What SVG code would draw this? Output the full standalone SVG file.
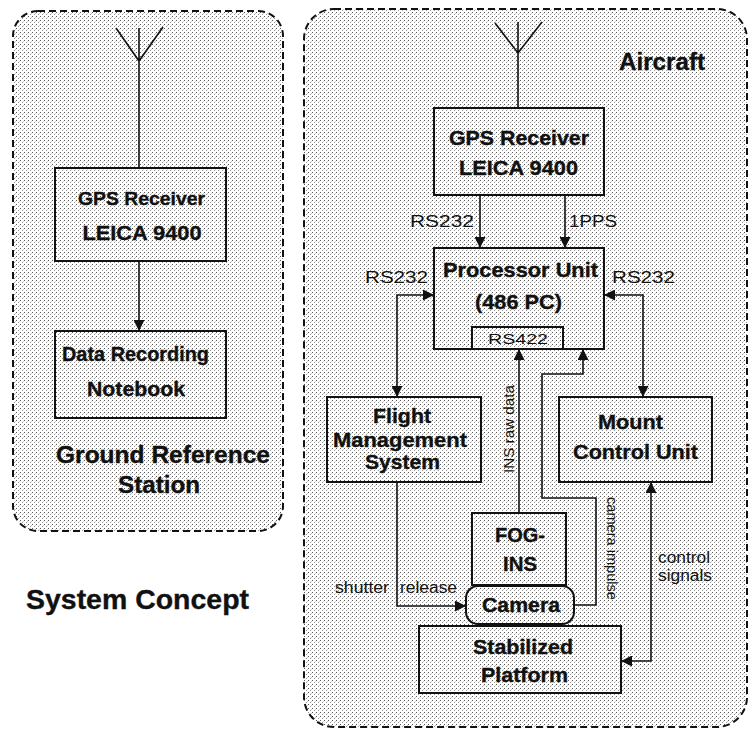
<svg xmlns="http://www.w3.org/2000/svg" width="749" height="729" viewBox="0 0 749 729">
<style>
.panel{fill:url(#dots);stroke:#111;stroke-width:2;stroke-dasharray:7 4}
.box{fill:none;stroke:#111;stroke-width:2}
.ln{fill:none;stroke:#111;stroke-width:1.6}
.b{font-family:"Liberation Sans",Arial,sans-serif;font-weight:bold;fill:#111;stroke:#111;stroke-width:0.35;text-anchor:middle}
.r{font-family:"Liberation Sans",Arial,sans-serif;fill:#111;text-anchor:middle}
.arr{marker-end:url(#ah)}
.both{marker-start:url(#ah);marker-end:url(#ah)}
</style>
<defs>
<pattern id="dots" width="4" height="4" patternUnits="userSpaceOnUse">
<rect width="4" height="4" fill="#fff"/>
<rect x="0" y="0" width="1" height="1" fill="#555"/>
<rect x="2" y="2" width="1" height="1" fill="#999"/>
<rect x="3" y="1" width="1" height="1" fill="#ccc"/>
</pattern>
<marker id="ah" markerUnits="userSpaceOnUse" markerWidth="11" markerHeight="11" viewBox="0 0 11 11" refX="11" refY="5.5" orient="auto-start-reverse">
<path d="M0,0 L11,5.5 L0,11 z" fill="#111"/>
</marker>
</defs>
<rect width="749" height="729" fill="#fff"/>

<g id="ground-panel">
<rect class="panel" x="13" y="11" width="270" height="520" rx="25"/>
<text class="b" x="163" y="463" font-size="23" textLength="214" lengthAdjust="spacingAndGlyphs">Ground Reference</text>
<text class="b" x="159" y="493" font-size="23" textLength="82" lengthAdjust="spacingAndGlyphs">Station</text>
</g>

<g id="aircraft-panel">
<rect class="panel" x="304" y="9" width="443" height="718" rx="30"/>
<text class="b" x="662" y="70" font-size="24" textLength="86" lengthAdjust="spacingAndGlyphs">Aircraft</text>
</g>

<g id="title">
<text class="b" x="137.5" y="609" font-size="27" textLength="223" lengthAdjust="spacingAndGlyphs">System Concept</text>
</g>

<g id="ground-gps">
<path class="ln" d="M139,28 V168 M116,28 L139,61 L163,27"/>
<rect class="box" x="55" y="168" width="171" height="93"/>
<text class="b" x="141.5" y="205" font-size="19" textLength="127" lengthAdjust="spacingAndGlyphs">GPS Receiver</text>
<text class="b" x="142" y="240" font-size="20" textLength="119" lengthAdjust="spacingAndGlyphs">LEICA 9400</text>
</g>

<g id="data-recording">
<rect class="box" x="55" y="331" width="171" height="87"/>
<text class="b" x="135.5" y="361" font-size="20" textLength="147" lengthAdjust="spacingAndGlyphs">Data Recording</text>
<text class="b" x="136" y="396" font-size="20" textLength="98" lengthAdjust="spacingAndGlyphs">Notebook</text>
</g>

<g id="aircraft-gps">
<path class="ln" d="M518,22 V108 M495,23 L518,53 L542,22"/>
<rect class="box" x="434" y="108" width="170" height="87"/>
<text class="b" x="519" y="145" font-size="20" textLength="140" lengthAdjust="spacingAndGlyphs">GPS Receiver</text>
<text class="b" x="518.5" y="175" font-size="20" textLength="119" lengthAdjust="spacingAndGlyphs">LEICA 9400</text>
</g>

<g id="processor">
<rect class="box" x="434" y="248" width="170" height="101"/>
<text class="b" x="520.5" y="277" font-size="21" textLength="155" lengthAdjust="spacingAndGlyphs">Processor Unit</text>
<text class="b" x="518.5" y="309" font-size="21" textLength="87" lengthAdjust="spacingAndGlyphs">(486 PC)</text>
<rect class="box" x="472" y="327" width="91" height="22"/>
<text class="r" x="518" y="344" font-size="14" textLength="60" lengthAdjust="spacingAndGlyphs">RS422</text>
</g>

<g id="fms">
<rect class="box" x="327" y="397" width="154" height="85"/>
<text class="b" x="402" y="423" font-size="21" textLength="58" lengthAdjust="spacingAndGlyphs">Flight</text>
<text class="b" x="400" y="447" font-size="21" textLength="134" lengthAdjust="spacingAndGlyphs">Management</text>
<text class="b" x="402.5" y="469" font-size="21" textLength="75" lengthAdjust="spacingAndGlyphs">System</text>
</g>

<g id="mcu">
<rect class="box" x="559" y="397" width="153" height="85"/>
<text class="b" x="630.5" y="429" font-size="21" textLength="65" lengthAdjust="spacingAndGlyphs">Mount</text>
<text class="b" x="635.5" y="459" font-size="21" textLength="125" lengthAdjust="spacingAndGlyphs">Control Unit</text>
</g>

<g id="fog-ins">
<rect class="box" x="472" y="513" width="94" height="72"/>
<text class="b" x="520" y="542" font-size="20" textLength="50" lengthAdjust="spacingAndGlyphs">FOG-</text>
<text class="b" x="520" y="571" font-size="20" textLength="34" lengthAdjust="spacingAndGlyphs">INS</text>
</g>

<g id="camera">
<rect class="box" x="466" y="586" width="108" height="38" rx="12"/>
<text class="b" x="521" y="612" font-size="20" textLength="78" lengthAdjust="spacingAndGlyphs">Camera</text>
</g>

<g id="platform">
<rect class="box" x="419" y="626" width="202" height="67"/>
<text class="b" x="523" y="654" font-size="20" textLength="100" lengthAdjust="spacingAndGlyphs">Stabilized</text>
<text class="b" x="524.5" y="682" font-size="20" textLength="87" lengthAdjust="spacingAndGlyphs">Platform</text>
</g>

<g id="connectors">
<path class="ln arr" d="M139,261 V331"/>
<path class="ln arr" d="M480,195 V248"/>
<path class="ln arr" d="M565,195 V248"/>
<path class="ln both" d="M434,295 H397 V397"/>
<path class="ln both" d="M604,295 H643 V397"/>
<path class="ln arr" d="M519,513 V349"/>
<path class="ln arr" d="M574,605 H596 V498 H542 V374 H583 V349"/>
<path class="ln arr" d="M397,482 V606 H466"/>
<path class="ln both" d="M651,482 V661 H621"/>
<text class="r" x="442" y="227" font-size="16" textLength="64" lengthAdjust="spacingAndGlyphs">RS232</text>
<text class="r" x="593" y="227" font-size="16" textLength="48" lengthAdjust="spacingAndGlyphs">1PPS</text>
<text class="r" x="396.5" y="283" font-size="16" textLength="63" lengthAdjust="spacingAndGlyphs">RS232</text>
<text class="r" x="643.5" y="283" font-size="16" textLength="63" lengthAdjust="spacingAndGlyphs">RS232</text>
<text class="r" transform="translate(514,429) rotate(-90)" font-size="14" textLength="88" lengthAdjust="spacingAndGlyphs">INS raw data</text>
<text class="r" transform="translate(607,548.5) rotate(90)" font-size="14" textLength="103" lengthAdjust="spacingAndGlyphs">camera impulse</text>
<text class="r" x="362" y="593" font-size="16" textLength="54" lengthAdjust="spacingAndGlyphs">shutter</text>
<text class="r" x="428.5" y="593" font-size="16" textLength="57" lengthAdjust="spacingAndGlyphs">release</text>
<text class="r" x="684" y="563" font-size="16" textLength="52" lengthAdjust="spacingAndGlyphs">control</text>
<text class="r" x="685" y="581" font-size="16" textLength="54" lengthAdjust="spacingAndGlyphs">signals</text>
</g>
</svg>
